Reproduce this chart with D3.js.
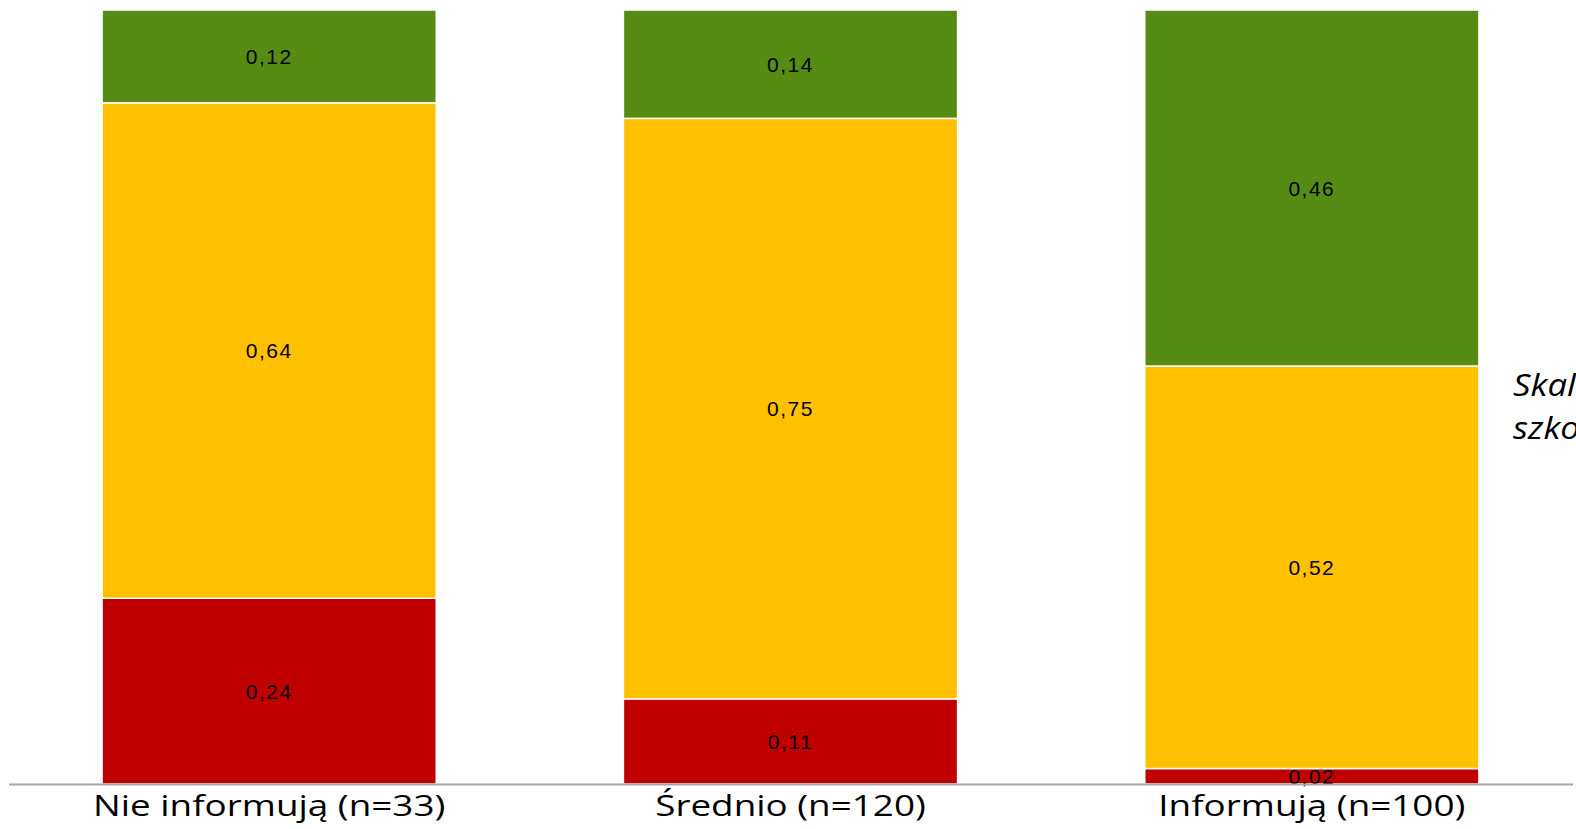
<!DOCTYPE html>
<html>
<head>
<meta charset="utf-8">
<script src="https://cdn.jsdelivr.net/npm/d3@7/dist/d3.min.js"></script>
<style>
  html, body { margin: 0; padding: 0; background: #fff; overflow: hidden; }
  svg { display: block; }
</style>
</head>
<body>
<svg id="chart" width="1576" height="829"></svg>
<script>
// Categories and shares of each level (bottom to top)
const categories = ["Nie informują (n=33)", "Średnio (n=120)", "Informują (n=100)"];
const lowValues = [0.24, 0.11, 0.02];
const midValues = [0.64, 0.75, 0.52];
const highValues = [0.12, 0.14, 0.46];
const seriesKeys = ["low", "mid", "high"];
const seriesColors = ["#C00000", "#FFC000", "#578C14"];
const sideText = ["Skala informowania", "szkoły"];

const rows = categories.map((c, i) => ({
  category: c, low: lowValues[i], mid: midValues[i], high: highValues[i]
}));

const svg = d3.select("#chart");
const stretch = 1.27; // wide lettering of the captions

const x = d3.scaleBand()
  .domain(categories)
  .range([8.5, 1572.5])
  .paddingInner(0.359)
  .paddingOuter(0.1795);

const y = d3.scaleLinear().domain([0, 1]).range([784, 10]);

const color = d3.scaleOrdinal().domain(seriesKeys).range(seriesColors);

const stacked = d3.stack().keys(seriesKeys)(rows);

const fmt = v => d3.format(".2f")(v).replace(".", ",");

const layers = svg.append("g").selectAll("g")
  .data(stacked)
  .join("g")
  .attr("fill", d => color(d.key));

layers.selectAll("rect")
  .data(d => d)
  .join("rect")
  .attr("x", d => x(d.data.category))
  .attr("width", x.bandwidth())
  .attr("y", d => y(d[1]))
  .attr("height", d => y(d[0]) - y(d[1]))
  .attr("stroke", "#fff")
  .attr("stroke-width", 1.5);

// Value labels centred in each segment
const labels = svg.append("g");
stacked.forEach(layer => {
  labels.selectAll(null)
    .data(layer)
    .join("text")
    .attr("x", d => x(d.data.category) + x.bandwidth() / 2)
    .attr("y", d => (y(d[0]) + y(d[1])) / 2)
    .attr("dy", "0.36em")
    .attr("text-anchor", "middle")
    .attr("font-family", "Liberation Sans, Arial, sans-serif")
    .attr("font-size", 21)
    .attr("letter-spacing", "1.5px")
    .attr("fill", "#000")
    .text(d => fmt(d[1] - d[0]));
});

// Category axis along the baseline
const axis = svg.append("g")
  .attr("transform", `translate(0,${y(0)})`)
  .call(d3.axisBottom(x).tickSize(0).tickPadding(11));
axis.select(".domain")
  .attr("stroke", "#A6A6A6")
  .attr("stroke-width", 2);
axis.selectAll("text")
  .attr("font-family", "Open Sans, Noto Sans, sans-serif")
  .attr("font-size", 29)
  .attr("fill", "#000")
  .each(function () {
    const w = this.getComputedTextLength();
    d3.select(this)
      .attr("textLength", w * stretch)
      .attr("lengthAdjust", "spacingAndGlyphs");
  });

// Side caption
svg.append("g")
  .selectAll("text")
  .data(sideText)
  .join("text")
  .attr("x", 1513)
  .attr("y", (d, i) => 396 + i * 43)
  .attr("font-family", "Open Sans, Noto Sans, sans-serif")
  .attr("font-style", "italic")
  .attr("font-size", 31)
  .attr("fill", "#000")
  .text(d => d)
  .each(function () {
    const w = this.getComputedTextLength();
    d3.select(this)
      .attr("textLength", w * 1.12)
      .attr("lengthAdjust", "spacingAndGlyphs");
  });
</script>
</body>
</html>
